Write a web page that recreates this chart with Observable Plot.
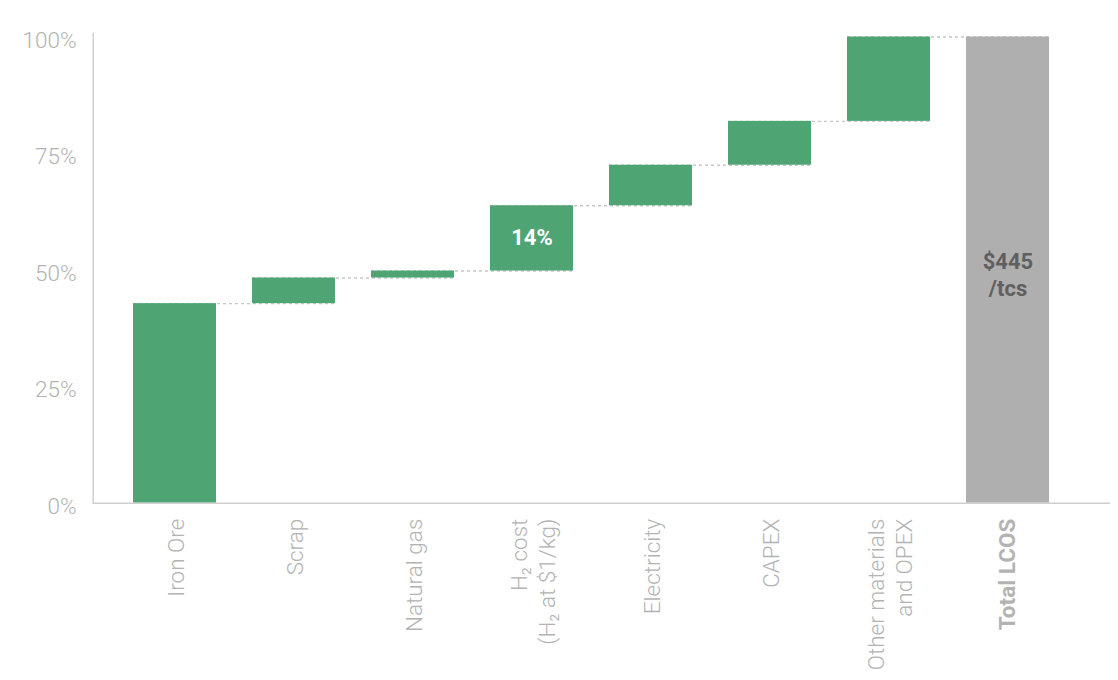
<!DOCTYPE html>
<html>
<head>
<meta charset="utf-8">
<script src="https://cdn.jsdelivr.net/npm/d3@7"></script>
<script src="https://cdn.jsdelivr.net/npm/@observablehq/plot@0.6"></script>
<style>
  html, body { margin: 0; padding: 0; background: #fff; }
  #chart svg { display: block; }
</style>
</head>
<body>
<div id="chart"></div>
<script>
// ---- data (share of levelized cost of steel, %) ----
const categories = [
  "Iron Ore",
  "Scrap",
  "Natural gas",
  "H\u2082 cost\n(H\u2082 at $1/kg)",
  "Electricity",
  "CAPEX",
  "Other materials\nand OPEX",
  "Total LCOS"
];
const shares = [42.8, 5.5, 1.5, 14.0, 8.7, 9.4, 18.1];
const yTicks = [0, 25, 50, 75, 100];
const h2Label = "14%";
const totalLabel = "$445\n/tcs";

// ---- derived waterfall table ----
let run = 0;
const steps = shares.map((v, i) => {
  const start = run;
  run += v;
  return {cat: categories[i], start, end: run, value: v};
});
const total = {cat: categories[categories.length - 1], start: 0, end: run};
const connectors = steps.map((s, i) => ({
  a: categories[i],
  b: categories[i + 1],
  y: s.end
}));

const green = "#4ea473";
const grey = "#afafaf";
const axisGrey = "#b3b3b3";
const font = "Roboto, 'Noto Sans', sans-serif";

const chart = Plot.plot({
  width: 1118,
  height: 680,
  marginLeft: 92.7,
  marginRight: 8,
  marginTop: 33,
  marginBottom: 177.3,
  style: {fontFamily: font, fontSize: "22.5px", background: "#fff"},
  x: {
    domain: categories,
    range: [114.7, 1066.8],
    paddingInner: 0.3025,
    paddingOuter: 0.15125,
    axis: null
  },
  y: {domain: [0, 100.75], axis: null},
  marks: [
    Plot.ruleY(connectors, {
      x1: "a", x2: "b", y: "y",
      stroke: "#c8c8c8", strokeWidth: 1.4, strokeDasharray: "3,3"
    }),
    Plot.barY(steps, {x: "cat", y1: "start", y2: "end", fill: green}),
    Plot.barY([total], {x: "cat", y1: "start", y2: "end", fill: grey}),
    Plot.ruleY([0], {stroke: "#cfcfcf", strokeWidth: 1.5}),
    Plot.frame({anchor: "left", stroke: "#cfcfcf", strokeWidth: 1.5}),
    // y tick labels
    Plot.text(yTicks, {
      y: d => d, text: d => d + "%",
      frameAnchor: "left", textAnchor: "end", dx: -16.5, dy: 3.5,
      fill: axisGrey, fontSize: 22.5, fontWeight: 300
    }),
    // x category labels (rotated)
    Plot.text(categories.slice(0, -1), {
      x: d => d, text: d => d,
      frameAnchor: "bottom", rotate: -90, textAnchor: "end", lineAnchor: "middle",
      dy: 15.5, lineHeight: 1.26,
      fill: axisGrey, fontSize: 22.5, fontWeight: 300
    }),
    Plot.text(categories.slice(-1), {
      x: d => d, text: d => d,
      frameAnchor: "bottom", rotate: -90, textAnchor: "end", lineAnchor: "middle",
      dy: 15.5,
      fill: axisGrey, fontSize: 22.5, fontWeight: "bold"
    }),
    // value labels
    Plot.text(steps.filter(s => s.cat === categories[3]), {
      x: "cat", y: s => (s.start + s.end) / 2, text: () => h2Label,
      fill: "#fff", fontSize: 22, fontWeight: "bold"
    }),
    Plot.text([total], {
      x: "cat", y: s => (s.start + s.end) / 2, text: () => totalLabel,
      fill: "#5f5f5f", fontSize: 22, fontWeight: "bold", lineHeight: 1.23, dy: 4
    })
  ]
});
document.getElementById("chart").append(chart);
</script>
</body>
</html>
